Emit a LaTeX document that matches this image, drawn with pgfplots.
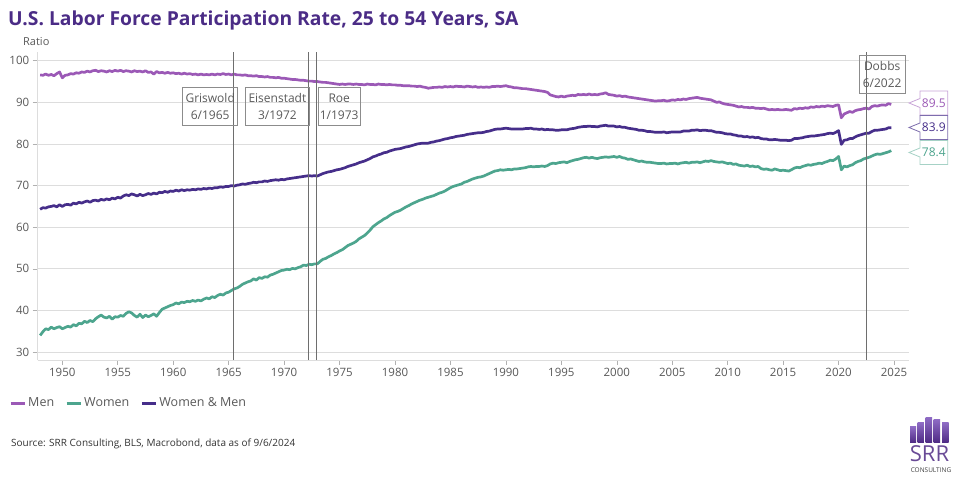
\documentclass[border=0pt]{standalone}
\usepackage{pgfplots}
\usepackage{pgfplotstable}
\pgfplotsset{compat=1.18}
\usepackage{fontspec}
\setmainfont{Open Sans}
\definecolor{menc}{HTML}{9B59B6}
\definecolor{womc}{HTML}{4DA58E}
\definecolor{totc}{HTML}{462E8A}
\definecolor{titlec}{HTML}{4B2C86}
\definecolor{txtc}{HTML}{595959}
\definecolor{gridc}{HTML}{DDDDDD}
\definecolor{evc}{HTML}{6E6E6E}
\definecolor{boxc}{HTML}{8C8C8C}
\definecolor{logod}{HTML}{4E2A84}
\definecolor{logol}{HTML}{8E6BC4}

\pgfplotstableread{
M W T
96.6 34.0 64.3
96.5 34.9 64.7
96.8 35.6 64.6
96.5 35.4 64.9
96.7 36.0 65.0
96.4 35.6 65.2
96.9 35.9 64.9
97.3 36.1 65.4
95.9 35.6 65.0
96.5 35.9 65.4
96.6 36.2 65.5
96.9 36.0 65.3
96.8 36.6 65.8
97.1 36.3 65.6
97.0 36.9 66.0
97.3 36.8 65.8
97.2 37.4 66.1
97.5 37.1 66.3
97.3 37.6 66.0
97.6 37.3 66.4
97.7 38.0 66.5
97.4 38.5 66.3
97.6 38.9 66.7
97.5 38.4 66.5
97.3 38.2 66.8
97.6 38.6 66.6
97.4 37.9 67.0
97.7 38.5 66.8
97.5 38.4 67.2
97.7 38.8 67.0
97.4 38.6 67.5
97.6 39.3 67.8
97.5 39.7 67.6
97.3 39.4 68.0
97.6 38.8 67.8
97.4 38.4 67.5
97.5 39.1 67.9
97.3 38.3 67.6
97.6 38.9 67.8
97.2 38.5 68.1
97.3 38.8 67.9
96.8 39.2 68.2
97.4 38.6 68.0
97.1 39.5 68.4
97.2 40.3 68.3
97.0 40.6 68.6
97.2 40.9 68.4
97.0 41.2 68.7
97.1 41.4 68.6
96.9 41.8 68.9
97.0 41.6 68.7
96.8 42.0 69.0
97.0 41.9 68.8
96.8 42.2 69.0
96.9 42.1 68.9
96.7 42.4 69.1
96.8 42.2 69.0
96.6 42.5 69.2
96.8 42.3 69.1
96.6 42.7 69.3
96.7 43.0 69.2
96.6 42.8 69.4
96.8 43.3 69.3
96.6 43.1 69.5
96.8 43.6 69.5
96.7 43.9 69.7
96.9 43.7 69.6
96.7 44.2 69.8
96.8 44.4 69.8
96.6 44.8 70.0
96.8 45.2 69.9
96.6 45.4 70.1
96.6 45.8 70.2
96.5 46.3 70.4
96.6 46.6 70.3
96.4 46.9 70.5
96.4 47.1 70.6
96.3 47.6 70.8
96.4 47.3 70.7
96.2 47.9 70.9
96.2 47.7 70.9
96.1 48.1 71.1
96.2 48.0 71.0
96.0 48.5 71.2
96.0 48.7 71.3
95.9 49.0 71.4
96.0 49.3 71.3
95.8 49.6 71.5
95.8 49.7 71.4
95.7 49.9 71.6
95.6 49.8 71.7
95.5 50.1 71.8
95.5 50.0 71.9
95.4 50.3 72.0
95.3 50.5 72.1
95.3 50.9 72.2
95.2 50.8 72.3
95.1 51.1 72.4
95.1 51.0 72.3
95.0 51.2 72.4
95.0 51.2 72.3
94.9 51.8 72.6
94.8 52.3 72.9
94.8 52.5 73.1
94.7 52.9 73.3
94.6 53.2 73.4
94.5 53.6 73.6
94.4 53.9 73.8
94.3 54.3 73.9
94.4 54.6 74.1
94.3 55.1 74.3
94.4 55.6 74.6
94.4 55.9 74.8
94.3 56.2 75.0
94.4 56.6 75.2
94.3 57.2 75.5
94.3 57.6 75.7
94.2 58.0 75.9
94.4 58.6 76.2
94.3 59.3 76.5
94.3 60.1 76.9
94.2 60.6 77.1
94.4 61.1 77.4
94.3 61.5 77.6
94.3 62.0 77.9
94.2 62.3 78.0
94.3 62.8 78.3
94.2 63.2 78.5
94.2 63.6 78.7
94.1 63.8 78.8
94.1 64.1 78.9
94.0 64.5 79.1
94.0 64.9 79.3
94.0 65.2 79.4
93.9 65.6 79.6
93.9 65.9 79.8
93.8 66.2 80.0
93.9 66.5 80.1
93.7 66.7 80.2
93.6 67.0 80.2
93.4 67.2 80.2
93.5 67.4 80.4
93.6 67.6 80.5
93.6 67.9 80.7
93.7 68.2 80.8
93.6 68.4 81.0
93.8 68.7 81.2
93.7 69.1 81.3
93.8 69.5 81.5
93.7 69.8 81.6
93.9 70.0 81.8
93.8 70.2 81.9
93.8 70.4 82.0
93.7 70.8 82.1
93.9 71.0 82.3
93.8 71.3 82.4
93.7 71.6 82.5
93.8 71.8 82.6
93.6 72.0 82.7
93.7 72.1 82.7
93.6 72.3 82.8
93.7 72.6 83.0
93.6 72.9 83.1
93.8 73.2 83.3
93.8 73.5 83.5
93.9 73.6 83.6
93.8 73.8 83.6
93.9 73.7 83.7
94.0 73.8 83.8
93.8 73.9 83.7
93.7 73.8 83.6
93.5 74.0 83.6
93.5 74.0 83.6
93.4 74.1 83.6
93.3 74.2 83.6
93.3 74.3 83.7
93.2 74.5 83.7
93.1 74.6 83.8
93.0 74.5 83.6
92.9 74.6 83.6
92.8 74.6 83.5
92.7 74.7 83.6
92.6 74.6 83.4
92.4 74.8 83.5
91.8 75.2 83.4
91.6 75.4 83.4
91.4 75.3 83.3
91.3 75.5 83.3
91.5 75.6 83.4
91.3 75.7 83.4
91.5 75.5 83.4
91.6 75.8 83.6
91.7 76.0 83.7
91.6 76.2 83.8
91.9 76.3 84.0
91.8 76.5 84.1
91.9 76.7 84.2
91.8 76.8 84.2
92.0 76.6 84.3
91.8 76.8 84.2
91.9 76.6 84.2
91.8 76.5 84.1
92.0 76.7 84.3
92.1 76.8 84.4
92.3 76.9 84.5
91.9 76.8 84.3
91.8 76.9 84.3
91.7 77.0 84.3
91.5 76.8 84.1
91.6 77.0 84.2
91.4 76.7 84.0
91.5 76.6 84.0
91.3 76.3 83.8
91.2 76.4 83.7
91.1 76.2 83.6
91.0 76.0 83.5
90.9 75.8 83.3
90.8 75.9 83.3
90.7 75.7 83.2
90.6 75.6 83.0
90.5 75.6 83.0
90.4 75.5 82.9
90.3 75.4 82.8
90.4 75.3 82.8
90.4 75.3 82.8
90.5 75.4 82.9
90.3 75.2 82.7
90.4 75.3 82.8
90.6 75.3 82.9
90.5 75.4 82.9
90.7 75.2 82.9
90.6 75.4 82.9
90.8 75.5 83.1
90.7 75.6 83.1
90.9 75.4 83.1
91.0 75.6 83.3
91.1 75.6 83.3
91.2 75.7 83.4
91.0 75.5 83.2
90.9 75.7 83.3
90.8 75.9 83.3
90.7 75.8 83.2
90.6 76.0 83.2
90.3 75.8 83.0
90.0 75.7 82.8
90.1 75.6 82.8
89.8 75.7 82.7
89.6 75.5 82.5
89.5 75.3 82.4
89.4 75.4 82.4
89.3 75.1 82.2
89.1 75.2 82.1
88.9 74.9 81.9
89.0 74.8 81.9
88.8 74.7 81.7
88.8 74.9 81.8
88.7 74.6 81.6
88.8 74.7 81.7
88.6 74.5 81.5
88.6 74.6 81.6
88.5 74.1 81.3
88.6 73.9 81.2
88.4 74.0 81.2
88.2 73.8 81.0
88.3 73.7 81.0
88.2 74.0 81.1
88.3 73.8 81.0
88.2 73.6 80.9
88.2 73.7 80.9
88.3 73.6 80.9
88.2 73.5 80.8
88.1 73.8 80.9
88.5 74.2 81.3
88.4 74.4 81.3
88.6 74.3 81.4
88.5 74.6 81.5
88.7 74.8 81.7
88.6 75.0 81.8
88.9 74.9 81.9
88.8 75.1 81.9
89.0 75.2 82.0
88.9 75.4 82.1
89.1 75.3 82.2
89.0 75.6 82.3
89.2 75.8 82.5
89.1 76.1 82.6
89.0 76.0 82.5
89.3 76.4 82.8
89.4 77.0 83.2
86.3 73.8 79.9
87.2 74.7 80.9
87.5 74.5 81.0
87.8 74.8 81.3
87.6 75.0 81.3
88.0 75.5 81.7
88.2 75.8 82.0
88.3 76.0 82.2
88.5 76.4 82.4
88.6 76.6 82.6
88.4 76.8 82.6
89.0 77.1 83.0
89.2 77.4 83.3
89.1 77.6 83.3
89.3 77.5 83.4
89.4 77.7 83.5
89.3 77.9 83.6
89.7 78.1 83.9
89.5 78.4 83.9
}\lfpr

\begin{document}
\begin{tikzpicture}
\path[use as bounding box] (0,0) rectangle (960pt,480pt);
% title
\node[anchor=base west, inner sep=0pt, font=\bfseries\fontsize{19.3}{22}\selectfont, text=titlec] at (8pt,454pt) {U.S. Labor Force Participation Rate, 25 to 54 Years, SA};
\node[anchor=base west, inner sep=0pt, font=\fontsize{11}{13}\selectfont, text=txtc] at (23pt,434.5pt) {Ratio};
\begin{axis}[
  at={(37.7pt,120pt)}, anchor=south west,
  scale only axis, width=871.3pt, height=308pt,
  xmin=1947.78, xmax=2026.35, ymin=28.1, ymax=102.1,
  xtick={1950,1955,...,2025}, ytick={30,40,...,100},
  axis x line*=bottom, axis y line*=left,
  axis line style={draw=gridc, line width=0.8pt},
  tick align=outside, major tick length=5pt,
  tick style={draw=gridc!80!black, line width=0.6pt},
  ymajorgrids, grid style={draw=gridc, line width=0.8pt},
  /pgf/number format/assume math mode=true,
  xticklabel style={/pgf/number format/1000 sep={}, font=\fontsize{11.5}{13}\selectfont, text=txtc},
  yticklabel style={font=\fontsize{11.5}{13}\selectfont, text=txtc},
  legend style={at={(axis description cs:-0.0329,-0.1396)}, anchor=west, draw=none, fill=none,
    font=\fontsize{12.5}{14}\selectfont, text=txtc, inner sep=0pt,
    /tikz/every even column/.append style={column sep=9pt}},
  legend columns=3,
  legend cell align=left,
  legend image code/.code={\draw[#1, line width=3pt] (0pt,0pt) -- (14pt,0pt);},
]
\addplot[menc, line width=2.7pt, line join=round] table[x expr=1948+\coordindex/4, y=M] {\lfpr};
\addlegendentry{Men}
\addplot[womc, line width=2.7pt, line join=round] table[x expr=1948+\coordindex/4, y=W] {\lfpr};
\addlegendentry{Women}
\addplot[totc, line width=2.7pt, line join=round] table[x expr=1948+\coordindex/4, y=T] {\lfpr};
\addlegendentry{Women \& Men}
% event lines
\addplot[evc, line width=0.8pt, forget plot] coordinates {(1965.42,28.1) (1965.42,102.1)};
\addplot[evc, line width=0.8pt, forget plot] coordinates {(1972.2,28.1) (1972.2,102.1)};
\addplot[evc, line width=0.8pt, forget plot] coordinates {(1972.94,28.1) (1972.94,102.1)};
\addplot[evc, line width=0.8pt, forget plot] coordinates {(2022.5,28.1) (2022.5,102.1)};
\end{axis}
% event boxes
\begin{scope}[every node/.style={draw=boxc, line width=0.8pt, minimum height=38pt, inner sep=0pt, align=center, text=txtc, font=\fontsize{12}{16.5}\selectfont}]
\node[minimum width=55pt] at (210.2pt,373.4pt) {Griswold\\6/1965};
\node[minimum width=63.3pt] at (277.4pt,373.4pt) {Eisenstadt\\3/1972};
\node[minimum width=42pt] at (339.2pt,373.4pt) {Roe\\1/1973};
\node[minimum width=45.7pt] at (882.2pt,405.6pt) {Dobbs\\6/2022};
\end{scope}
% end-value callouts
\draw[menc!55, line width=0.8pt, fill=white] (909pt,377pt) -- ++(11pt,4.5pt) -- ++(0,7.5pt) -- ++(27.7pt,0) -- ++(0,-24pt) -- ++(-27.7pt,0) -- ++(0,7.5pt) -- cycle;
\node[text=menc, font=\fontsize{12}{14}\selectfont] at (933.8pt,377pt) {89.5};
\draw[totc!70, line width=0.8pt, fill=white] (909pt,352.5pt) -- ++(11pt,4.5pt) -- ++(0,7.5pt) -- ++(27.7pt,0) -- ++(0,-24pt) -- ++(-27.7pt,0) -- ++(0,7.5pt) -- cycle;
\node[text=totc, font=\fontsize{12}{14}\selectfont] at (933.8pt,352.5pt) {83.9};
\draw[womc!50, line width=0.8pt, fill=white] (909pt,327.5pt) -- ++(11pt,4.5pt) -- ++(0,7.5pt) -- ++(27.7pt,0) -- ++(0,-24pt) -- ++(-27.7pt,0) -- ++(0,7.5pt) -- cycle;
\node[text=womc, font=\fontsize{12}{14}\selectfont] at (933.8pt,327.5pt) {78.4};
% source
\node[anchor=west, inner sep=0pt, font=\fontsize{10}{12}\selectfont, text=black!80] at (11pt,36pt) {Source: SRR Consulting, BLS, Macrobond, data as of 9/6/2024};
% logo
\shade[top color=logol, bottom color=logod] (910pt,37.3pt) rectangle (916.2pt,53.3pt);
\shade[top color=logol, bottom color=logod] (917.6pt,37.3pt) rectangle (923.8pt,57.3pt);
\shade[top color=logol, bottom color=logod] (925.6pt,37.3pt) rectangle (932.2pt,62.7pt);
\shade[top color=logol, bottom color=logod] (933.7pt,37.3pt) rectangle (940.2pt,60.7pt);
\shade[top color=logol, bottom color=logod] (942pt,37.3pt) rectangle (948.6pt,57.3pt);
\node[inner sep=0pt, font=\fontsize{22}{24}\selectfont, text=logod!85!white] at (929.5pt,26.5pt) {SRR};
\node[inner sep=0pt, font=\fontsize{6.5}{7}\selectfont, text=black!75] at (931pt,10pt) {CONSULTING};
\end{tikzpicture}
\end{document}
